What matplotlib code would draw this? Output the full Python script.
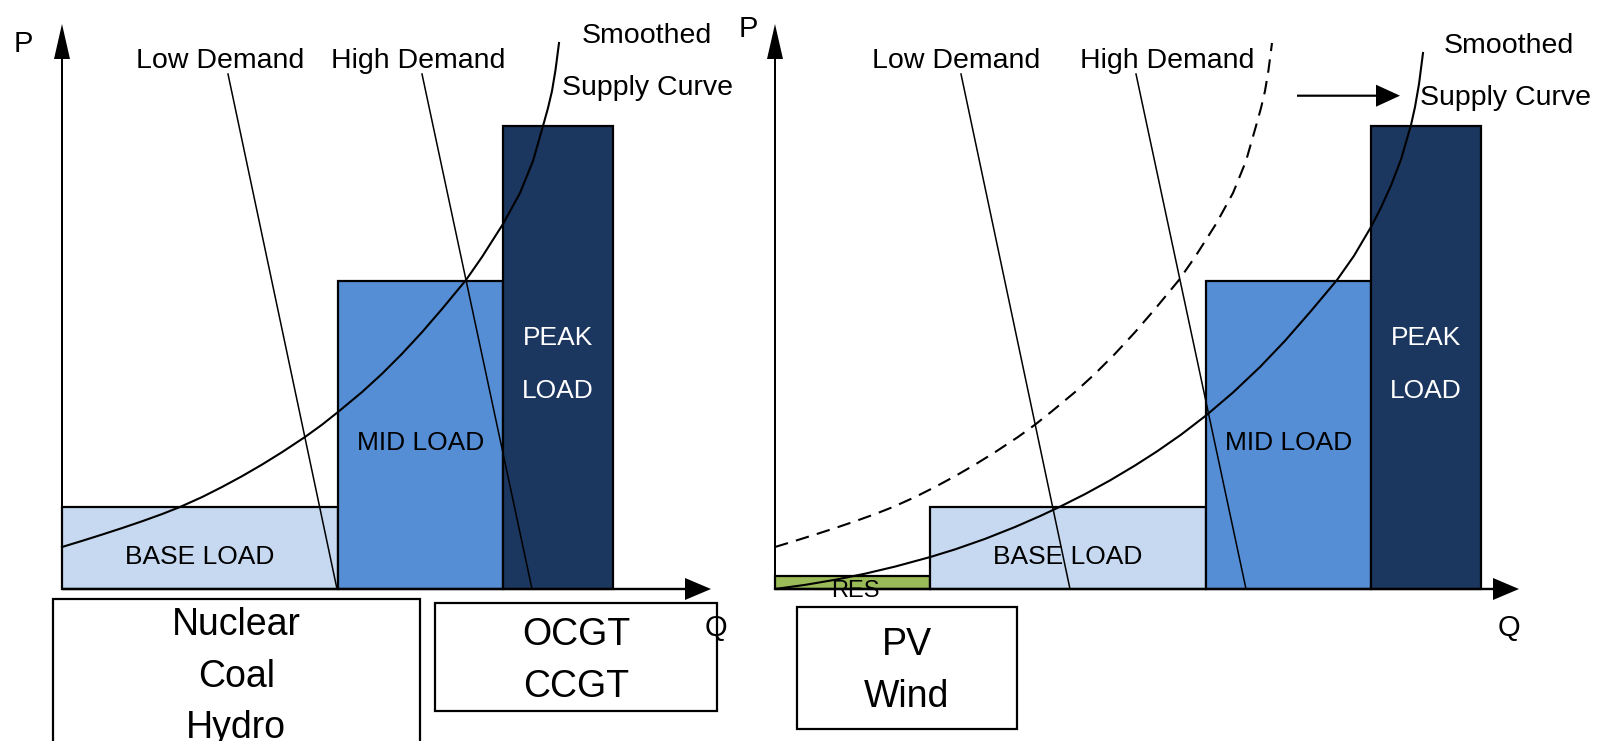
import numpy as np
import matplotlib.pyplot as plt
from matplotlib.patches import Rectangle

# capacity blocks (Q width, P level), same for both panels
blocks = ["BASE LOAD", "MID LOAD", "PEAK LOAD"]
block_width = [27.6, 16.5, 11.0]
block_price = [8.2, 30.8, 46.3]
block_color = ["#C6D9F0", "#558ED5", "#1B365F"]

# renewables block (right panel only)
res_width = 15.5
res_price = 1.3

# smoothed supply curve, conventional mix
supply_q = [0, 2, 4, 6, 8, 10, 11.8, 14, 16, 18, 20, 22, 24.3, 26, 27.6,
            30, 32, 34, 36, 38, 40.4, 42, 44.1, 45.8, 47.1, 48.1, 48.6,
            49.0, 49.35, 49.7]
supply_p = [4.2, 4.81, 5.44, 6.09, 6.77, 7.49, 8.2, 9.19, 10.2, 11.28,
            12.44, 13.68, 15.2, 16.43, 17.7, 19.69, 21.52, 23.52, 25.68,
            28.0, 30.9, 33.2, 36.5, 39.6, 42.8, 46.3, 48.1, 49.8, 51.9, 54.6]

# smoothed supply curve with RES (right panel)
supply_res_q = [0, 3, 6, 9, 12, 15.5, 18, 21, 24, 26.5, 28.5, 31, 33.5, 36,
                38.2, 40.6, 43.1, 45.8, 48.5, 51, 53.6, 56.2, 57.9, 59.6,
                60.6, 61.6, 62.6, 63.6, 64.0, 64.4, 64.8]
supply_res_p = [0, 0.41, 0.92, 1.53, 2.24, 3.19, 3.96, 5.01, 6.2, 7.29,
                8.23, 9.49, 10.86, 12.35, 13.76, 15.43, 17.35, 19.65, 22.2,
                24.82, 27.8, 30.9, 33.32, 36.2, 38.15, 40.35, 42.95, 46.4,
                48.2, 50.5, 53.6]

# demand lines: (top, bottom)
demand_p = [51.5, 0.0]
low_q_left = [16.6, 27.5]
high_q_left = [36.0, 47.0]
low_q_right = [18.6, 29.5]
high_q_right = [36.1, 47.1]

tech_base = ["Nuclear", "Coal", "Hydro"]
tech_peak = ["OCGT", "CCGT"]
tech_res = ["PV", "Wind"]

FONT = ["Liberation Sans", "DejaVu Sans"]
LBL = 20.5   # curve labels
BLK = 19     # block labels

W, H = 159.9, 74.1
fig = plt.figure(figsize=(15.99, 7.41), dpi=100)


def panel(x0, name):
    ax = fig.add_axes([0, 0, 1, 1], label=name)
    ax.set_xlim(-x0, W - x0)
    ax.set_ylim(-15.2, H - 15.2)
    ax.axis("off")
    ax.patch.set_alpha(0)
    return ax


def draw_blocks(ax, q0):
    starts = q0 + np.concatenate([[0], np.cumsum(block_width)[:-1]])
    ax.bar(starts, block_price, width=block_width, align="edge",
           color=block_color, edgecolor="black", linewidth=1.6, zorder=1)
    mids = starts + np.array(block_width) / 2
    ax.text(mids[0], 2.5, "BASE LOAD", ha="center", va="baseline",
            fontsize=BLK, family=FONT, zorder=4)
    ax.text(mids[1], 13.9, "MID LOAD", ha="center", va="baseline",
            fontsize=BLK, family=FONT, zorder=4)
    ax.text(mids[2], 24.4, "PEAK", ha="center", va="baseline",
            fontsize=BLK, family=FONT, color="white", zorder=4)
    ax.text(mids[2], 19.07, "LOAD", ha="center", va="baseline",
            fontsize=BLK, family=FONT, color="white", zorder=4)


def draw_axes(ax, xlen, p_xy, q_xy):
    ax.arrow(0, 0, 0, 56.5, width=0.2, head_width=1.6, head_length=3.5,
             length_includes_head=True, fc="black", ec="none", zorder=5)
    ax.arrow(0, 0, xlen, 0, width=0.24, head_width=2.2, head_length=2.6,
             length_includes_head=True, fc="black", ec="none", zorder=5)
    ax.text(*p_xy, "P", ha="center", va="baseline", fontsize=21, family=FONT)
    ax.text(*q_xy, "Q", ha="center", va="baseline", fontsize=21, family=FONT)


def tech_box(ax, x, y, w, h, names, first_base, step=5.17):
    ax.add_patch(Rectangle((x, y), w, h, fill=False, ec="black", lw=1.6,
                           clip_on=False))
    for i, n in enumerate(names):
        ax.text(x + w / 2, first_base - i * step, n, ha="center",
                va="baseline", fontsize=27, family=FONT)


def curve_labels(ax, low_x, high_x, sm_xy, sc_xy):
    ax.text(low_x, 52.07, "Low Demand", ha="center", va="baseline",
            fontsize=LBL, family=FONT)
    ax.text(high_x, 52.07, "High Demand", ha="center", va="baseline",
            fontsize=LBL, family=FONT)
    ax.text(*sm_xy, "Smoothed", ha="center", va="baseline",
            fontsize=LBL, family=FONT)
    ax.text(*sc_xy, "Supply Curve", ha="center", va="baseline",
            fontsize=LBL, family=FONT)


# ---- left panel: conventional supply ----
ax1 = panel(6.2, "left")
draw_blocks(ax1, 0)
draw_axes(ax1, 64.9, (-3.83, 53.73), (65.4, -4.7))
ax1.plot(supply_q, supply_p, color="black", lw=1.5, zorder=3)
ax1.plot(low_q_left, demand_p, color="black", lw=1.1, zorder=3)
ax1.plot(high_q_left, demand_p, color="black", lw=1.1, zorder=3)
curve_labels(ax1, 15.85, 35.66, (58.5, 54.63), (58.56, 49.4))
tech_box(ax1, -0.93, -17.0, 36.73, 16.05, tech_base, -4.6)
tech_box(ax1, 37.3, -12.2, 28.2, 10.8, tech_peak, -5.6)

# ---- right panel: with renewables ----
ax2 = panel(77.5, "right")
ax2.bar([0], [res_price], width=res_width, align="edge", color="#9BBB59",
        edgecolor="black", linewidth=1.6, zorder=1)
draw_blocks(ax2, res_width)
draw_axes(ax2, 74.4, (-2.7, 55.23), (73.4, -4.7))
ax2.plot(supply_q, supply_p, color="black", lw=1.5, ls=(0, (6.5, 4)), zorder=3)
ax2.plot(supply_res_q, supply_res_p, color="black", lw=1.5, zorder=3)
ax2.plot(low_q_right, demand_p, color="black", lw=1.1, zorder=3)
ax2.plot(high_q_right, demand_p, color="black", lw=1.1, zorder=3)
ax2.arrow(52.2, 49.33, 10.3, 0, width=0.22, head_width=2.2, head_length=2.4,
          length_includes_head=True, fc="black", ec="none", zorder=5)
curve_labels(ax2, 18.15, 39.2, (73.4, 53.57), (73.0, 48.4))
ax2.text(8.0, -0.83, "RES", ha="center", va="baseline", fontsize=17,
         family=FONT, zorder=4)
tech_box(ax2, 2.17, -14.0, 22.0, 12.23, tech_res, -6.6)

fig.savefig("out.png", dpi=100)
